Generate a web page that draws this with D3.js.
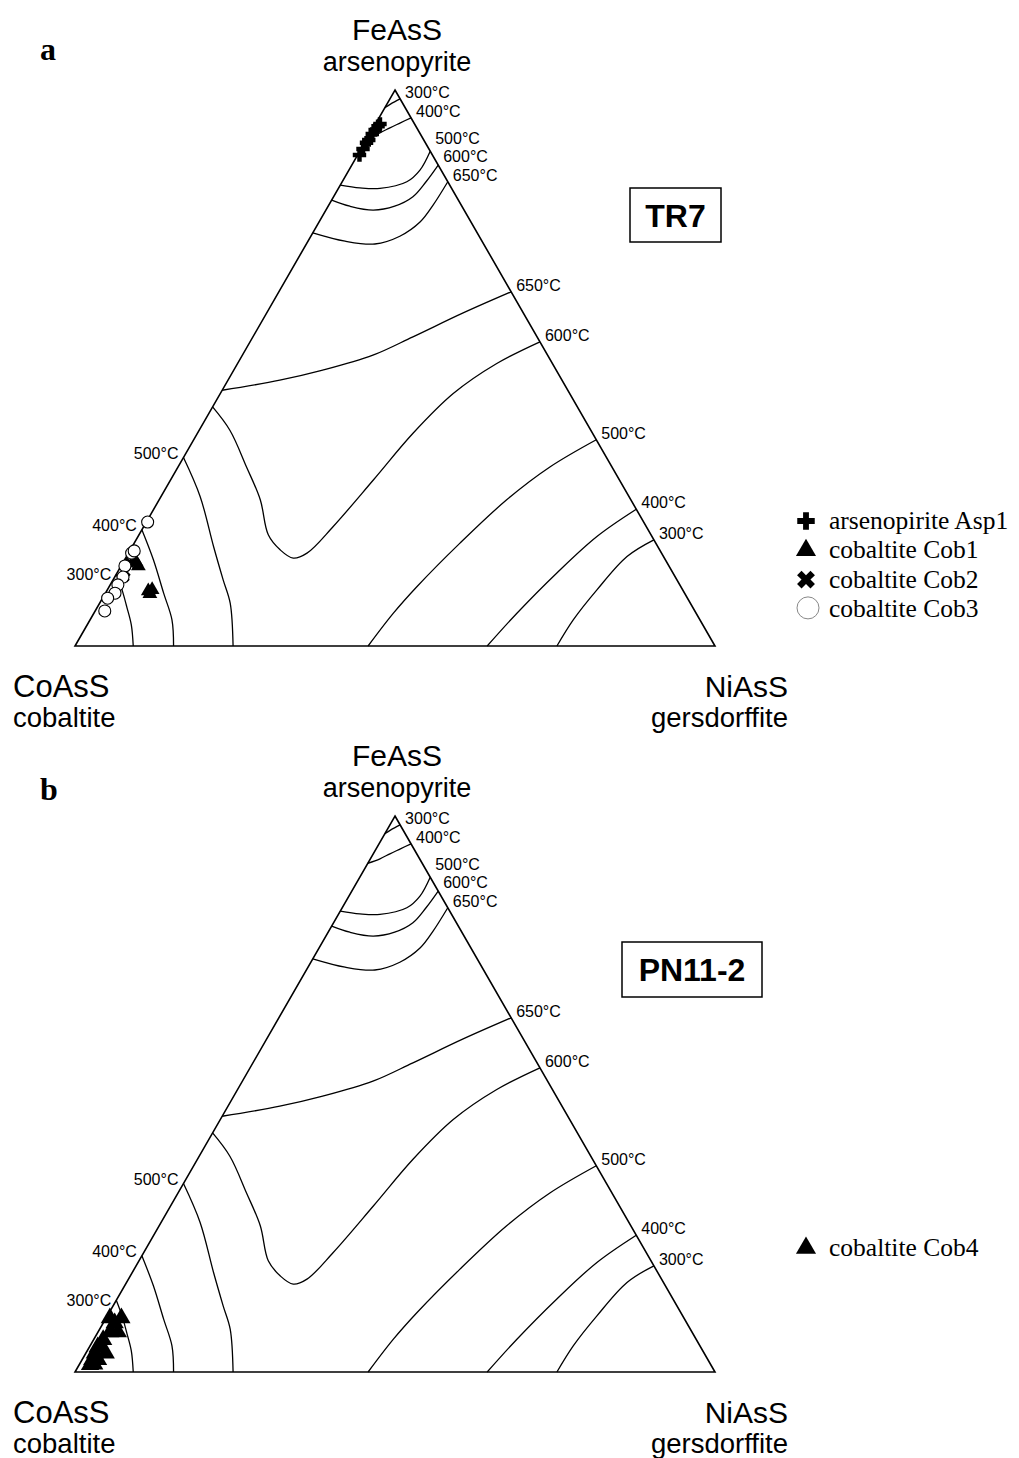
<!DOCTYPE html>
<html>
<head>
<meta charset="utf-8">
<script src="https://cdn.jsdelivr.net/npm/d3@7"></script>
<style>
  body { margin: 0; background: #fff; }
  text { font-family: "Liberation Sans", Arial, sans-serif; fill: #000; }
</style>
</head>
<body>
<div id="chart"></div>
<script>
// compositions are [Fe, Ni] in mol% (Co = 100 - Fe - Ni)

// isotherms near the FeAsS apex
const apexIsotherms = [
  { t: '300°C', pts: [[96.8, 0], [97.5, 0.6], [98.4, 1.6]] },
  { t: '400°C', pts: [[91.5, 0], [92.3, 1.5], [93.2, 2.6], [94.1, 3.8], [95.0, 5.0]] },
  { t: '500°C', pts: [[82.9, 0], [82.4, 3.3], [82.3, 6.5], [83.5, 10.1], [85.6, 11.1], [89.0, 11.0]] },
  { t: '600°C', pts: [[80.2, 0], [79.1, 3.4], [78.4, 7.4], [79.1, 10.4], [80.8, 12.4], [83.5, 13.1], [86.5, 13.5]] },
  { t: '650°C', pts: [[74.3, 0], [72.8, 5.8], [72.3, 10.7], [73.7, 13.9], [76.3, 15.8], [79.3, 16.3], [83.5, 16.5]] }
];

// isotherms crossing the middle of the diagram
const middleIsotherms = [
  { t: '650°C', pts: [[46.0, 0], [47.8, 8.1], [49.6, 13.9], [52.3, 20.4], [55.6, 25.0], [59.9, 30.7], [63.7, 36.3]] },
  { t: '600°C', pts: [[43.0, 0], [38.8, 4.8], [32.2, 10.7], [26.3, 15.8], [20.0, 20.2], [17.3, 23.4], [15.8, 26.2],
                      [16.7, 27.9], [21.5, 29.6], [29.9, 31.7], [38.3, 33.7], [45.4, 36.4], [50.8, 40.5], [54.7, 45.3]] }
];

// isotherms on the cobaltite side
const coIsotherms = [
  { t: '500°C', pts: [[33.9, 0], [26.9, 6.1], [17.9, 12.7], [11.9, 17.2], [7.7, 20.4], [0, 24.7]] },
  { t: '400°C', pts: [[20.9, 0], [15.5, 4.5], [9.5, 9.1], [4.7, 12.8], [0, 15.4]] },
  { t: '300°C', pts: [[12.9, 0], [10.1, 2.3], [7.0, 4.6], [3.8, 6.9], [0, 9.1]] }
];

// isotherms on the gersdorffite side
const niIsotherms = [
  { t: '500°C', pts: [[37.1, 62.9], [32.2, 58.1], [26.3, 54.3], [18.5, 50.9], [10.7, 48.1], [5.9, 46.8], [0, 45.8]] },
  { t: '400°C', pts: [[24.6, 75.4], [19.7, 71.7], [13.1, 68.7], [5.9, 66.1], [0, 64.4]] },
  { t: '300°C', pts: [[19.1, 80.9], [16.1, 78.2], [10.1, 76.5], [4.7, 75.5], [0, 75.3]] }
];

const isotherms = [
  ...apexIsotherms.map(d => ({ ...d, group: 'apex' })),
  ...middleIsotherms.map(d => ({ ...d, group: 'mid' })),
  ...coIsotherms.map(d => ({ ...d, group: 'co' })),
  ...niIsotherms.map(d => ({ ...d, group: 'ni' }))
];

// analyses
const asp1 = [[88.3, 0.3], [89.4, 0.3], [90.5, 0.3], [91.0, 0.4], [92.1, 0.4], [92.8, 0.5], [93.5, 0.6], [93.9, 0.7]];
const cob1 = [[14.4, 2.7], [15.1, 2.0], [9.9, 6.5], [10.1, 7.0], [9.4, 7.0]];
const cob2 = [[15.0, 1.0], [13.3, 1.2], [12.4, 1.5]];
const cob3 = [[22.3, 0.2], [16.7, 0.5], [17.1, 0.7], [14.4, 0.6], [12.4, 1.3], [11.0, 1.2], [9.5, 1.5], [8.6, 0.8], [6.3, 1.5]];
const cob4 = [[9.7, 2.4], [9.7, 0.6], [8.8, 1.8], [7.2, 1.9], [7.2, 3.1], [5.8, 1.5], [4.5, 1.3], [4.5, 1.8],
              [3.4, 1.4], [3.4, 3.1], [2.2, 1.6], [2.2, 2.5], [1.3, 1.7], [1.4, 2.3]];

const legendA = ['arsenopirite Asp1', 'cobaltite Cob1', 'cobaltite Cob2', 'cobaltite Cob3'];
const legendB = ['cobaltite Cob4'];

const W = 1019, H = 1458;
const svg = d3.select('#chart').append('svg').attr('width', W).attr('height', H);

const x = d3.scaleLinear().domain([0, 100]).range([75, 715]);

// small vertical nudges for crowded isotherm labels
const labelNudge = { 'apex500°C': -6, 'apex600°C': -2, 'co300°C': 5 };

const sym = {
  plus: d3.symbol().type(d3.symbolCross),
  tri: d3.symbol().type(d3.symbolTriangle),
  cross: d3.symbol().type(d3.symbolCross)
};

function marker(g, kind, px, py, size) {
  if (kind === 'circle') {
    return g.append('circle').attr('cx', px).attr('cy', py).attr('r', size)
      .attr('fill', '#fff').attr('stroke', '#000').attr('stroke-width', 1.1);
  }
  const p = g.append('path').attr('d', sym[kind].size(size)()).attr('fill', '#000');
  p.attr('transform', `translate(${px},${py})` + (kind === 'cross' ? ' rotate(45)' : ''));
  return p;
}

function drawPanel(p) {
  const y = d3.scaleLinear().domain([0, 100]).range([646 + p.dy, 90 + p.dy]);
  const proj = d => [x(d[1] + d[0] / 2), y(d[0])];
  const g = svg.append('g');

  const curve = d3.line().curve(d3.curveCatmullRom.alpha(0.5));

  isotherms.forEach(iso => {
    g.append('path')
      .attr('d', curve(iso.pts.map(proj)))
      .attr('fill', 'none').attr('stroke', '#000').attr('stroke-width', 1.3);

    const onRight = iso.pts.find(d => d[0] + d[1] >= 99.9);
    const end = onRight || iso.pts.find(d => d[1] === 0);
    const [ex, ey] = proj(end);
    const nudge = labelNudge[iso.group + iso.t] || 0;
    g.append('text')
      .attr('x', onRight ? ex + 5 : ex - 5)
      .attr('y', (onRight ? ey - 1 : ey + 1) + nudge)
      .attr('text-anchor', onRight ? 'start' : 'end')
      .style('font-size', '16px')
      .text(iso.t);
  });

  // triangle frame
  g.append('path')
    .attr('d', d3.line()([[100, 0], [0, 100], [0, 0]].map(proj)) + 'Z')
    .attr('fill', 'none').attr('stroke', '#000').attr('stroke-width', 1.6);

  // data points
  p.series.forEach(s => {
    s.data.forEach(d => {
      const [px, py] = proj(d);
      marker(g, s.kind, px, py, s.size);
    });
  });

  // end-member labels
  const [ax] = proj([100, 0]);
  g.append('text').attr('x', ax + 2).attr('y', 40 + p.dy).attr('text-anchor', 'middle')
    .style('font-size', '30px').text('FeAsS');
  g.append('text').attr('x', ax + 2).attr('y', 71 + p.dy).attr('text-anchor', 'middle')
    .style('font-size', '27px').text('arsenopyrite');
  g.append('text').attr('x', 13).attr('y', 697 + p.dy).style('font-size', '31px').text('CoAsS');
  g.append('text').attr('x', 13).attr('y', 727 + p.dy).style('font-size', '27.5px').text('cobaltite');
  g.append('text').attr('x', 788).attr('y', 697 + p.dy).attr('text-anchor', 'end')
    .style('font-size', '30px').text('NiAsS');
  g.append('text').attr('x', 788).attr('y', 727 + p.dy).attr('text-anchor', 'end')
    .style('font-size', '27.5px').text('gersdorffite');

  // panel letter
  g.append('text').attr('x', 40).attr('y', p.letterY)
    .style('font-family', '"Liberation Serif", "Times New Roman", serif')
    .style('font-weight', 'bold').style('font-size', '32px').text(p.letter);

  // sample box
  const b = p.box;
  g.append('rect').attr('x', b.x).attr('y', b.y).attr('width', b.w).attr('height', b.h)
    .attr('fill', '#fff').attr('stroke', '#000').attr('stroke-width', 1.5);
  g.append('text').attr('x', b.x + b.w / 2).attr('y', b.y + b.h / 2 + 11.5)
    .attr('text-anchor', 'middle').style('font-weight', 'bold').style('font-size', '32px')
    .text(p.sample);

  // legend
  p.legend.forEach((name, i) => {
    const s = p.series[i];
    const ly = p.legendY + i * 29.3;
    if (s.kind === 'circle') {
      g.append('circle').attr('cx', 808).attr('cy', ly - 9).attr('r', 11)
        .attr('fill', '#fff').attr('stroke', '#888').attr('stroke-width', 1);
    } else {
      marker(g, s.kind, 806, ly - 8, s.legendSize);
    }
    g.append('text').attr('x', 829).attr('y', ly)
      .style('font-family', '"Liberation Serif", "Times New Roman", serif')
      .style('font-size', '25.5px').text(name);
  });
}

drawPanel({
  dy: 0, letter: 'a', letterY: 60, sample: 'TR7',
  box: { x: 630, y: 188, w: 91, h: 54 },
  legend: legendA, legendY: 529,
  series: [
    { data: asp1, kind: 'plus', size: 100, legendSize: 170 },
    { data: cob1, kind: 'tri', size: 95, legendSize: 175 },
    { data: cob2, kind: 'cross', size: 75, legendSize: 200 },
    { data: cob3, kind: 'circle', size: 6 }
  ]
});

drawPanel({
  dy: 726, letter: 'b', letterY: 800, sample: 'PN11-2',
  box: { x: 622, y: 942, w: 140, h: 55 },
  legend: legendB, legendY: 1256,
  series: [
    { data: cob4, kind: 'tri', size: 145, legendSize: 175 }
  ]
});
</script>
</body>
</html>
